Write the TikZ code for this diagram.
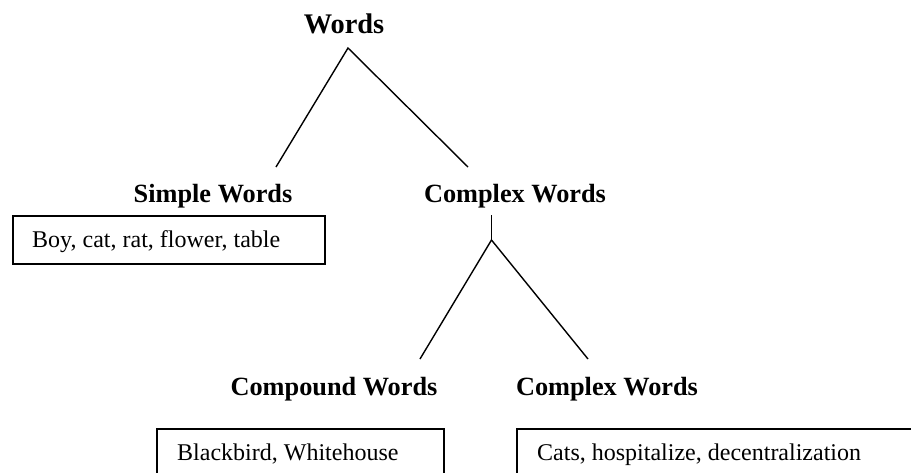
\documentclass[tikz,border=0pt]{standalone}
\usepackage{fontspec}
\setmainfont{Liberation Serif}
\begin{document}
\begin{tikzpicture}[x=1pt,y=-1pt,
  head/.style={font=\bfseries\fontsize{26.3}{30}\selectfont, inner sep=0pt, anchor=base},
  tophead/.style={font=\bfseries\fontsize{28.4}{32}\selectfont, inner sep=0pt, anchor=base},
  txt/.style={font=\fontsize{24}{28}\selectfont, inner sep=0pt, anchor=base west},
  wbox/.style={draw, line width=1.6pt, anchor=north west, inner sep=0pt},
  branch/.style={line width=1.4pt}]
\useasboundingbox (0,0) rectangle (911,472);
\clip (0,0) rectangle (911,472);
% headings
\node[tophead] (words) at (344,33) {Words};
\node[head] (simple) at (213,202) {Simple Words};
\node[head] (complexA) at (515,202) {Complex Words};
\node[head] (compound) at (334,395) {Compound Words};
\node[head] (complexB) at (607,395) {Complex Words};
% boxes
\node[wbox, minimum width=312pt, minimum height=48pt] (sbox) at (12,215) {};
\node[txt] (stext) at (32,247) {Boy, cat, rat, flower, table};
\node[wbox, minimum width=287pt, minimum height=90pt] (cbox) at (156,428) {};
\node[txt] (ctext) at (177,460) {Blackbird, Whitehouse};
\node[wbox, minimum width=460pt, minimum height=90pt] (xbox) at (516,428) {};
\node[txt] (xtext) at (537,460) {Cats, hospitalize, decentralization};
% connector points
\coordinate (wtop) at (348,48);
\coordinate (wleft) at (276,167);
\coordinate (wright) at (468,167);
\coordinate (ctop) at (491.5,215);
\coordinate (cfork) at (491.5,240);
\coordinate (cleft) at (420,359);
\coordinate (cright) at (588,359);
% connectors
\draw[branch] (wleft) -- (wtop) -- (wright);
\draw[branch] (ctop) -- (cfork);
\draw[branch] (cleft) -- (cfork) -- (cright);
\end{tikzpicture}
\end{document}
